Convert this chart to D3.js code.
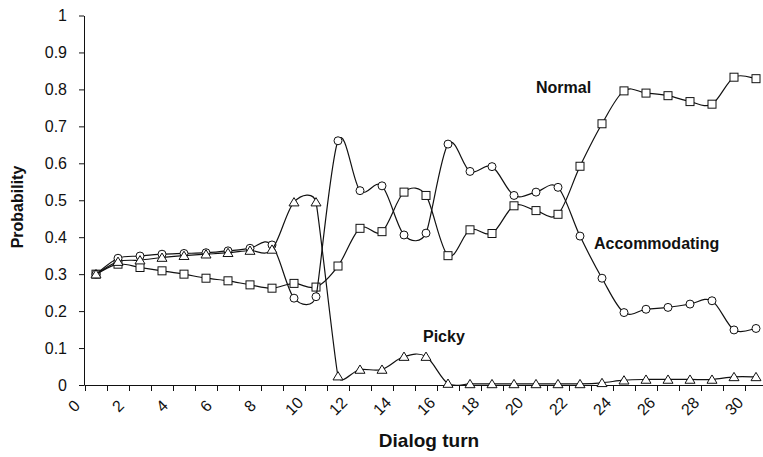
<!DOCTYPE html>
<html>
<head>
<meta charset="utf-8">
<script src="https://cdn.jsdelivr.net/npm/d3@7"></script>
<style>
  body { margin: 0; background: #fff; }
  svg { display: block; font-family: Arial, "Liberation Sans", sans-serif; }
</style>
</head>
<body>
<svg id="chart" width="763" height="457"></svg>
<script>
// Dialog turns (x categories)
const turns = [1, 2, 3, 4, 5, 6, 7, 8, 9, 10, 11, 12, 13, 14, 15, 16, 17, 18, 19, 20, 21, 22, 23, 24, 25, 26, 27, 28, 29, 30, 31];

// Probability of each user type per turn
const normal = [0.300, 0.327, 0.318, 0.309, 0.300, 0.289, 0.282, 0.271, 0.262, 0.275, 0.265, 0.322, 0.424, 0.415, 0.522, 0.513,
                0.350, 0.420, 0.410, 0.485, 0.472, 0.462, 0.592, 0.707, 0.796, 0.790, 0.783, 0.767, 0.760, 0.833, 0.829];
const accommodating = [0.300, 0.343, 0.349, 0.354, 0.356, 0.358, 0.363, 0.370, 0.379, 0.235, 0.239, 0.661, 0.526, 0.539, 0.406, 0.411,
                       0.652, 0.578, 0.591, 0.513, 0.522, 0.535, 0.403, 0.289, 0.196, 0.205, 0.210, 0.219, 0.228, 0.149, 0.153];
const picky = [0.300, 0.334, 0.338, 0.345, 0.350, 0.354, 0.358, 0.364, 0.367, 0.495, 0.495, 0.024, 0.042, 0.042, 0.077, 0.077,
               0.004, 0.003, 0.003, 0.003, 0.003, 0.003, 0.003, 0.006, 0.013, 0.015, 0.015, 0.015, 0.015, 0.022, 0.022];

const seriesNames = ["Normal", "Accommodating", "Picky"];

// Axis ticks and labels
const yTicks = [0, 0.1, 0.2, 0.3, 0.4, 0.5, 0.6, 0.7, 0.8, 0.9, 1];
const xLabels = [0, 2, 4, 6, 8, 10, 12, 14, 16, 18, 20, 22, 24, 26, 28, 30];
const xTickMarks = [0.5, 1.5, 2.5, 3.5, 4.5, 5.5, 6.5, 7.5, 8.5, 9.5, 10.5, 11.5, 12.5, 13.5, 14.5, 15.5,
                    16.5, 17.5, 18.5, 19.5, 20.5, 21.5, 22.5, 23.5, 24.5, 25.5, 26.5, 27.5, 28.5, 29.5, 30.5];

const svg = d3.select("#chart");
const ink = "#111";

const x = d3.scaleLinear().domain([1, 31]).range([96, 756]);
const y = d3.scaleLinear().domain([0, 1]).range([385, 15.5]);
const xAxisScale = d3.scaleLinear().domain([x.invert(84), x.invert(763)]).range([84, 763]);

// Y axis
const gy = svg.append("g")
  .attr("transform", "translate(84,0)")
  .call(d3.axisLeft(y).tickValues(yTicks).tickSize(5).tickSizeOuter(0).tickPadding(12)
    .tickFormat(d => d3.format("~g")(d)));
gy.attr("font-family", null).attr("font-size", 16);
gy.selectAll("text").attr("fill", ink);
gy.selectAll("line, path").attr("stroke", ink).attr("stroke-width", 1);

// X axis (ticks between turns)
const gx = svg.append("g")
  .attr("transform", "translate(0,385)")
  .call(d3.axisBottom(xAxisScale).tickValues(xTickMarks).tickSize(6).tickSizeOuter(0).tickFormat(() => ""));
gx.selectAll("line, path").attr("stroke", ink).attr("stroke-width", 1);

// Rotated x labels
svg.append("g").selectAll("text")
  .data(xLabels)
  .join("text")
  .attr("transform", d => `translate(${x(d)},406) rotate(-45)`)
  .attr("text-anchor", "middle")
  .attr("dy", "0.35em")
  .attr("font-size", 16)
  .attr("fill", ink)
  .text(d => d);

// Axis titles
svg.append("text")
  .attr("transform", "translate(23,207) rotate(-90)")
  .attr("text-anchor", "middle")
  .attr("font-size", 16).attr("font-weight", "bold").attr("fill", ink)
  .text("Probability");
svg.append("text")
  .attr("x", 429).attr("y", 447)
  .attr("text-anchor", "middle")
  .attr("font-size", 19).attr("font-weight", "bold").attr("fill", ink)
  .text("Dialog turn");

// Smoothed path: Bezier through every point, tangent along neighbours,
// handle length 1/6 of the neighbour span but at most half the shorter adjoining segment.
function smoothPath(pts) {
  const n = pts.length;
  const dist = (a, b) => Math.hypot(a[0] - b[0], a[1] - b[1]);
  const handles = pts.map((p, i) => {
    const p0 = pts[Math.max(0, i - 1)], p2 = pts[Math.min(n - 1, i + 1)];
    const d02 = dist(p0, p2);
    if (d02 === 0) return [0, 0];
    const segs = [];
    if (i > 0) segs.push(dist(p0, p));
    if (i < n - 1) segs.push(dist(p, p2));
    const f = Math.min(1 / 6, 0.5 * Math.min(...segs) / d02);
    return [f * (p2[0] - p0[0]), f * (p2[1] - p0[1])];
  });
  let d = `M${pts[0][0]},${pts[0][1]}`;
  for (let i = 0; i < n - 1; i++) {
    const a = pts[i], b = pts[i + 1], ha = handles[i], hb = handles[i + 1];
    d += `C${a[0] + ha[0]},${a[1] + ha[1]} ${b[0] - hb[0]},${b[1] - hb[1]} ${b[0]},${b[1]}`;
  }
  return d;
}

const series = [
  { name: seriesNames[0], values: normal, marker: "square" },
  { name: seriesNames[1], values: accommodating, marker: "circle" },
  { name: seriesNames[2], values: picky, marker: "triangle" }
];

const plot = svg.append("g");
series.forEach(s => {
  const pts = turns.map((t, i) => [x(t), y(s.values[i])]);
  const g = plot.append("g");
  g.append("path")
    .attr("d", smoothPath(pts))
    .attr("fill", "none")
    .attr("stroke", ink)
    .attr("stroke-width", 1.2);
  const m = g.selectAll("g.m").data(pts).join("g").attr("transform", d => `translate(${d[0]},${d[1]})`);
  if (s.marker === "square") {
    m.append("rect").attr("x", -4).attr("y", -4).attr("width", 8).attr("height", 8);
  } else if (s.marker === "circle") {
    m.append("circle").attr("r", 4);
  } else {
    m.append("path").attr("d", "M0,-4.5L5,3.8L-5,3.8Z");
  }
  m.selectAll("*").attr("fill", "#fff").attr("stroke", ink).attr("stroke-width", 1);
});

// Series labels
const labels = [
  { text: seriesNames[0], x: 536, y: 93 },
  { text: seriesNames[1], x: 594, y: 249 },
  { text: seriesNames[2], x: 423, y: 342 }
];
svg.append("g").selectAll("text")
  .data(labels)
  .join("text")
  .attr("x", d => d.x).attr("y", d => d.y)
  .attr("font-size", 16).attr("font-weight", "bold").attr("fill", ink)
  .text(d => d.text);
</script>
</body>
</html>
